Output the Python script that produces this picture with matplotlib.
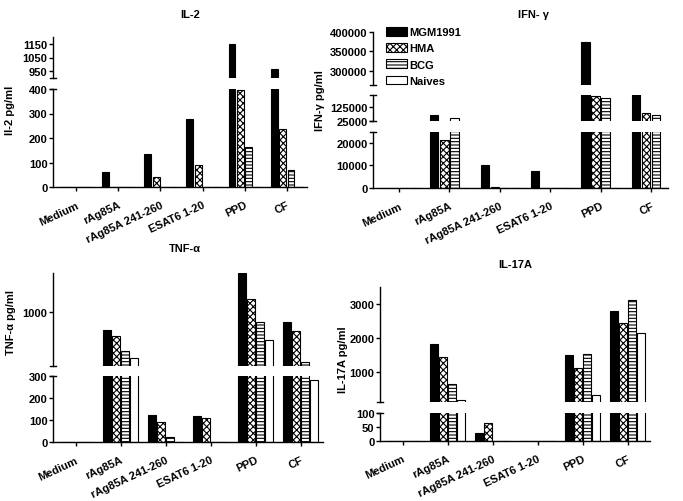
import numpy as np
import matplotlib
matplotlib.use('Agg')
import matplotlib.pyplot as plt
from matplotlib.lines import Line2D

plt.rcParams['font.family'] = ['Liberation Sans', 'DejaVu Sans']
plt.rcParams['font.weight'] = 'bold'
plt.rcParams['font.size'] = 8
plt.rcParams['hatch.linewidth'] = 0.8
plt.rcParams['axes.linewidth'] = 1.0

W, H = 683, 502

categories = ['Medium', 'rAg85A', 'rAg85A 241-260', 'ESAT6 1-20', 'PPD', 'CF']
groups = ['MGM1991', 'HMA', 'BCG', 'Naives']

# IL-2 (pg/ml)
il2_mgm = [0, 60, 136, 279, 1150, 964]
il2_hma = [0, 0, 40, 88, 396, 238]
il2_bcg = [0, 0, 0, 0, 164, 71]
il2_naive = [0, 0, 0, 0, 0, 0]

# IFN-gamma (pg/ml)
ifn_mgm = [0, 70000, 10200, 7700, 373000, 230000]
ifn_hma = [0, 21450, 300, 0, 207800, 84300]
ifn_bcg = [0, 50700, 0, 0, 189000, 70000]
ifn_naive = [0, 0, 0, 0, 0, 0]

# TNF-alpha (pg/ml)
tnf_mgm = [0, 764, 123, 120, 1500, 871]
tnf_hma = [0, 681, 89, 111, 1159, 751]
tnf_bcg = [0, 493, 21, 0, 862, 351]
tnf_naive = [0, 403, 0, 0, 639, 283]

# IL-17A (pg/ml)
il17_mgm = [0, 1819, 28, 0, 1513, 2804]
il17_hma = [0, 1445, 64, 0, 1119, 2433]
il17_bcg = [0, 632, 0, 0, 1522, 3116]
il17_naive = [0, 169, 0, 0, 306, 2157]

fig = plt.figure(figsize=(W / 100, H / 100), dpi=100)

x = np.arange(len(categories))
offsets = [-0.3, -0.1, 0.1, 0.3]
bw = 0.165
styles = [('black', None), ('white', 'xxxxx'), ('white', '-----'), ('white', None)]


def cap(xs, y):
    # short horizontal mark where the y axis is broken
    fig.add_artist(Line2D([(xs - 3) / W, (xs + 3) / W], [1 - y / H, 1 - y / H],
                          transform=fig.transFigure, color='black', lw=1.0))


def panel(x0, x1, segs, series, xlim):
    handles = None
    n = len(segs)
    for i, (yt, yb, lim, ticks) in enumerate(segs):
        ax = fig.add_axes([x0 / W, 1 - yb / H, (x1 - x0) / W, (yb - yt) / H])
        bars = []
        for j, vals in enumerate(series):
            fc, hatch = styles[j]
            b = ax.bar(x + offsets[j], vals, bw, color=fc, edgecolor='black',
                       hatch=hatch, linewidth=0.8, label=groups[j])
            bars.append(b)
        if i == 0:
            handles = bars
        ax.set_xlim(*xlim)
        ax.set_ylim(*lim)
        ax.set_yticks(ticks)
        ax.set_yticklabels([str(t) for t in ticks])
        ax.spines['top'].set_visible(False)
        ax.spines['right'].set_visible(False)
        ax.tick_params(axis='y', length=3, width=1, pad=1, labelsize=8)
        if i == 0:
            ax.set_xticks(x)
            ax.set_xticklabels(categories, rotation=25, ha='right', va='top',
                               rotation_mode='anchor')
            ax.tick_params(axis='x', length=3, width=1, pad=6, labelsize=8)
        else:
            ax.spines['bottom'].set_visible(False)
            ax.set_xticks([])
            cap(x0, yb)
        if i < n - 1:
            cap(x0, yt)
    return handles


# IL-2
panel(53, 307,
      [(90, 188, (0, 400), [0, 100, 200, 300, 400]),
       (38, 79, (900, 1200), [950, 1050, 1150])],
      [il2_mgm, il2_hma, il2_bcg, il2_naive], (-0.55, 5.48))
fig.text(190 / W, 1 - 15 / H, 'IL-2', ha='center', va='center')
fig.text(10 / W, 1 - 110 / H, 'Il-2 pg/ml', rotation=90, ha='center', va='center')

# IFN-gamma
h = panel(373, 668,
          [(132.7, 189, (0, 25000), [0, 10000, 20000]),
           (95.7, 122.3, (25000, 215000), [25000, 125000]),
           (32.7, 86, (263500, 400000), [300000, 350000, 400000])],
          [ifn_mgm, ifn_hma, ifn_bcg, ifn_naive], (-0.516, 5.337))
fig.text(533 / W, 1 - 15 / H, 'IFN- γ', ha='center', va='center')
fig.text(320 / W, 1 - 101 / H, 'IFN-γ pg/ml', rotation=90, ha='center', va='center')
fig.legend(h, groups, loc='upper left', bbox_to_anchor=(386 / W, 1 - 28 / H),
           frameon=False, handlelength=1.9, handleheight=0.8, handletextpad=0.15,
           labelspacing=0.55, borderaxespad=0, borderpad=0, fontsize=8)

# TNF-alpha
panel(53, 323,
      [(377, 443, (0, 300), [0, 100, 200, 300]),
       (274, 367, (300, 1500), [1000])],
      [tnf_mgm, tnf_hma, tnf_bcg, tnf_naive], (-0.5, 5.5))
fig.text(185 / W, 1 - 249 / H, 'TNF-α', ha='center', va='center')
fig.text(11 / W, 1 - 323 / H, 'TNF-α pg/ml', rotation=90, ha='center', va='center')

# IL-17A
panel(380, 650,
      [(414, 441.7, (0, 100), [0, 50, 100]),
       (288.3, 403.3, (100, 3500), [1000, 2000, 3000])],
      [il17_mgm, il17_hma, il17_bcg, il17_naive], (-0.5, 5.5))
fig.text(515 / W, 1 - 265 / H, 'IL-17A', ha='center', va='center')
fig.text(343 / W, 1 - 360 / H, 'IL-17A pg/ml', rotation=90, ha='center', va='center')

fig.savefig('out.png', dpi=100)
